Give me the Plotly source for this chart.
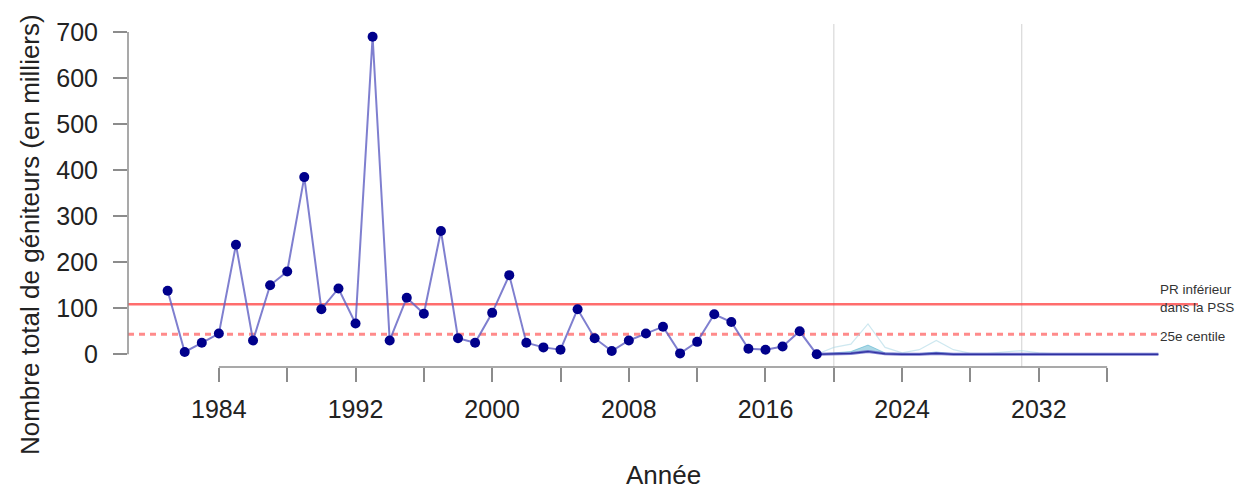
import plotly.graph_objects as go

# Observed spawner totals (thousands), 1981-2019
obs_years = list(range(1981, 2020))
obs_values = [138, 5, 25, 45, 238, 30, 150, 180, 385, 98, 143, 67, 690, 30, 123, 88,
              268, 35, 25, 90, 172, 25, 15, 10, 98, 35, 7, 30, 45, 60, 2, 27, 87, 70,
              12, 10, 17, 50, 0]

# Projections 2019-2039
proj_years = list(range(2019, 2040))
proj_upper = [0, 15, 22, 66, 15, 3, 10, 30, 10, 2, 2, 5, 8, 3, 1, 1, 1, 1, 1, 1, 1]
proj_band_hi = [0, 3, 6, 20, 3, 1, 1, 5, 1, 0, 0, 1, 1, 0, 0, 0, 0, 0, 0, 0, 0]
proj_band_lo = [0, 1, 2, 5, 1, 0, 0, 1, 0, 0, 0, 0, 0, 0, 0, 0, 0, 0, 0, 0, 0]
proj_median = [0, 1, 2, 6, 1, 0, 0, 2, 0, 0, 0, 0, 0, 0, 0, 0, 0, 0, 0, 0, 0]

lrp_value = 109      # PR inférieur dans la PSS
pct25_value = 43.5   # 25e centile
vlines = [2020, 2031]

x_tickvals = list(range(1984, 2037, 4))
x_ticktext = [str(v) if (v - 1984) % 8 == 0 and v < 2036 else "" for v in x_tickvals]
y_tickvals = [0, 100, 200, 300, 400, 500, 600, 700]

x_range = [1978.68, 2041.32]
y_range = [-27.6, 717.6]

FONT = "Liberation Sans, Arial, sans-serif"

fig = go.Figure()

# projection ribbons
fig.add_trace(go.Scatter(x=proj_years, y=proj_upper, mode="lines",
                         line=dict(color="rgba(173,216,230,0.6)", width=1.2),
                         hoverinfo="skip", showlegend=False))
fig.add_trace(go.Scatter(x=proj_years, y=proj_band_lo, mode="lines",
                         line=dict(color="rgba(0,0,0,0)", width=0),
                         hoverinfo="skip", showlegend=False))
fig.add_trace(go.Scatter(x=proj_years, y=proj_band_hi, mode="lines", fill="tonexty",
                         fillcolor="rgba(70,170,200,0.45)",
                         line=dict(color="rgba(70,170,200,0.5)", width=1),
                         hoverinfo="skip", showlegend=False))
fig.add_trace(go.Scatter(x=proj_years, y=proj_median, mode="lines",
                         line=dict(color="rgba(100,100,200,0.85)", width=3),
                         hoverinfo="skip", showlegend=False))
fig.add_trace(go.Scatter(x=proj_years, y=proj_median, mode="lines",
                         line=dict(color="rgba(20,20,140,0.7)", width=1.2),
                         hoverinfo="skip", showlegend=False))

# observed
fig.add_trace(go.Scatter(x=obs_years, y=obs_values, mode="lines+markers",
                         line=dict(color="rgba(95,95,195,0.8)", width=2),
                         marker=dict(color="#00008b", size=10),
                         hoverinfo="skip", showlegend=False))

shapes = []
for v in vlines:
    shapes.append(dict(type="line", xref="x", yref="paper", x0=v, x1=v, y0=0, y1=1,
                       line=dict(color="#d9d9d9", width=1.2), layer="below"))
shapes.append(dict(type="line", xref="paper", yref="y", x0=0, x1=1, y0=lrp_value, y1=lrp_value,
                   line=dict(color="rgba(255,60,60,0.75)", width=2.5), layer="below"))
shapes.append(dict(type="line", xref="paper", yref="y", x0=0, x1=0.962, y0=pct25_value, y1=pct25_value,
                   line=dict(color="rgba(255,90,90,0.7)", width=3, dash="6px,5px"), layer="below"))
# R-style axis lines spanning first to last tick
shapes.append(dict(type="line", xref="x", yref="paper", x0=x_tickvals[0], x1=x_tickvals[-1], y0=0, y1=0,
                   line=dict(color="#8c8c8c", width=1.5)))
shapes.append(dict(type="line", xref="paper", yref="y", x0=0, x1=0, y0=y_tickvals[0], y1=y_tickvals[-1],
                   line=dict(color="#8c8c8c", width=1.5)))

annotations = [
    dict(text="PR inférieur<br>dans la PSS", x=2039, y=lrp_value, xref="x", yref="y",
         xanchor="left", yanchor="middle", yshift=6, showarrow=False, align="left",
         font=dict(family=FONT, size=13.5, color="#333333")),
    dict(text="25e centile", x=2039, y=pct25_value, xref="x", yref="y",
         xanchor="left", yanchor="middle", yshift=-2, showarrow=False, align="left",
         font=dict(family=FONT, size=13.5, color="#333333")),
    dict(text="Nombre total de géniteurs (en milliers)", xref="paper", yref="paper",
         x=-0.0915, y=0.385, textangle=-90, showarrow=False, xanchor="center", yanchor="middle",
         font=dict(family=FONT, size=26, color="#222222")),
    dict(text="Année", xref="paper", yref="paper", x=0.5, y=-0.3557, showarrow=False,
         xanchor="center", yanchor="bottom", yshift=-3,
         font=dict(family=FONT, size=26, color="#222222")),
]

fig.update_layout(
    width=1242, height=489,
    margin=dict(l=128, r=43.5, t=24, b=122),
    paper_bgcolor="white", plot_bgcolor="white",
    shapes=shapes, annotations=annotations,
    showlegend=False,
    xaxis=dict(range=x_range, tickmode="array", tickvals=x_tickvals, ticktext=x_ticktext,
               ticks="outside", ticklen=14, tickwidth=1.5, tickcolor="#8c8c8c",
               showgrid=False, zeroline=False, showline=False,
               tickfont=dict(family=FONT, size=25, color="#222222"), ticklabelstandoff=6),
    yaxis=dict(range=y_range, tickmode="array", tickvals=y_tickvals,
               ticks="outside", ticklen=14, tickwidth=1.5, tickcolor="#8c8c8c",
               showgrid=False, zeroline=False, showline=False,
               tickfont=dict(family=FONT, size=25, color="#222222"), ticklabelstandoff=10),
)

fig.write_html("out.html")
